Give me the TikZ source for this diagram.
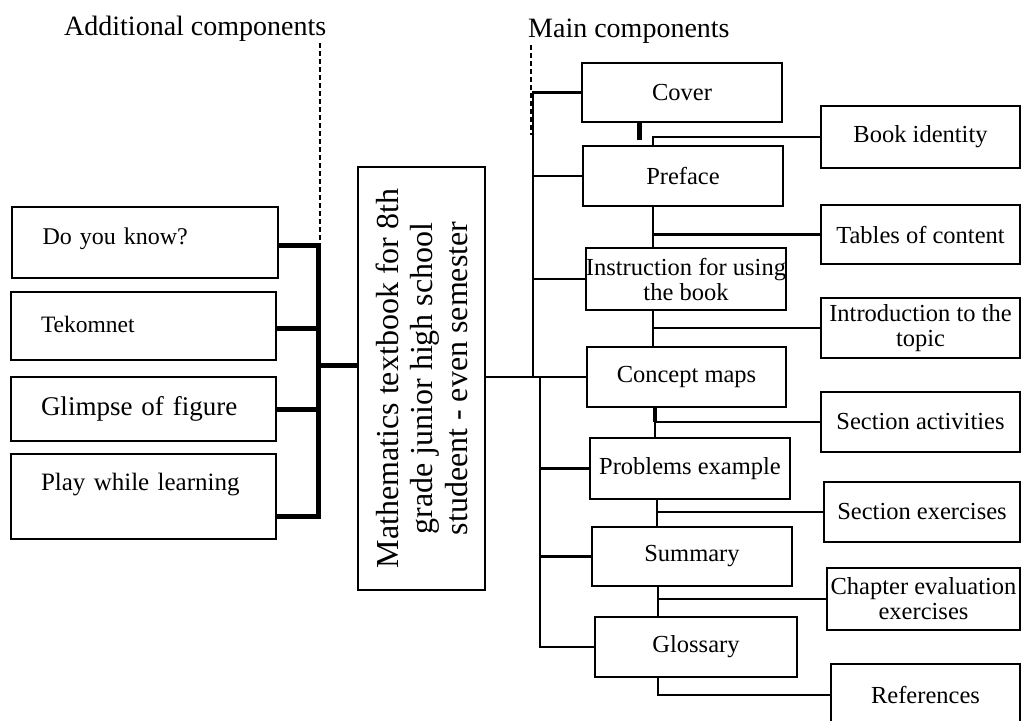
\documentclass[tikz,border=0pt]{standalone}
\usepackage{fontspec}
\setmainfont{Liberation Serif}
\newcommand\mybox[6][]{\node[box,minimum width={#5-#3},minimum height={#6-#4},#1] (#2) at ({(#3+#5)/2},{(#4+#6)/2})}
\begin{document}
\begin{tikzpicture}[x=1pt,y=-1pt,
  box/.style={draw,line width=2.5pt,inner sep=0pt,align=center,font=\fontsize{24.5}{25}\selectfont},
  leftbox/.style={align=left,inner xsep=30pt,text width=205pt},
  conn/.style={line width=2.2pt},
  heavy/.style={line width=5pt},
  dashline/.style={line width=1.1pt,dash pattern=on 5pt off 3pt},
  title/.style={anchor=base west,inner sep=0pt,font=\fontsize{28}{30}\selectfont}]
\useasboundingbox (0,0) rectangle (1022,720);

% titles
\node[title] (addt) at (64,35) {Additional components};
\node[title] (maint) at (528,37) {Main components};

% left boxes
\mybox[leftbox,font=\fontsize{24}{25}\selectfont,text height=17pt,text depth=13pt]{dyk}{12}{207}{278}{278} {Do you know?};
\mybox[leftbox,font=\fontsize{23.5}{25}\selectfont,text height=16pt,text depth=4pt]{tek}{11}{292}{276}{360} {Tekomnet};
\mybox[leftbox,font=\fontsize{27}{30}\selectfont]{glim}{11}{377}{276}{441} {Glimpse of figure};
\mybox[leftbox,font=\fontsize{25}{27}\selectfont,text height=17pt,text depth=30pt]{play}{11}{454}{276}{539} {Play while learning};

% center box
\node[draw,line width=2.5pt,inner sep=0pt,rotate=90,align=center,
      minimum width=423pt,minimum height=127pt,font=\fontsize{32}{34.5}\selectfont]
  (center) at (421.5,378.5) {Mathematics textbook for 8th\\grade junior high school\\studeent - even semester};

% main boxes
\mybox{cover}{582}{63}{782}{122} {Cover};
\mybox{preface}{583}{146}{783}{206} {Preface};
\mybox{instr}{587}{248}{785}{310} {Instruction for using\\the book};
\mybox{concept}{587}{347}{786}{407} {Concept maps};
\mybox{problems}{590}{438}{790}{499} {Problems example};
\mybox{summary}{592}{527}{792}{586} {Summary};
\mybox{glossary}{595}{617}{797}{677} {Glossary};

% right boxes
\mybox{bookid}{821}{106}{1020}{168} {Book identity};
\mybox{toc}{821}{205}{1020}{264} {Tables of content};
\mybox{intro}{821}{298}{1020}{358} {Introduction to the\\topic};
\mybox{secact}{821}{392}{1020}{452} {Section activities};
\mybox{secex}{824}{482}{1020}{542} {Section exercises};
\mybox{chap}{827}{568}{1020}{630} {Chapter evaluation\\exercises};
\mybox{refs}{831}{664}{1020}{726} {References};

% dashed leaders
\coordinate (lbus) at (318,0);
\coordinate (dl) at (320,43);
\coordinate (dm) at (531,45);
\draw[dashline] (dl) -- (dl |- dyk.east);
\draw[dashline] (dm) -- (531,135);

% left heavy connectors
\draw[heavy] (dyk.east |- 0,245) -- (lbus |- 0,245) -- (lbus |- 0,516) -- (play.east |- 0,516);
\draw[heavy] (tek.east |- 0,328) -- (lbus |- 0,328);
\draw[heavy] (glim.east) -- (lbus |- glim.east);
\draw[heavy] (lbus |- 0,365) -- (center.north |- 0,365);

% main bus
\coordinate (ub) at (533,0);
\coordinate (lb) at (540,0);
\draw[conn] (cover.west) -- (cover.west -| ub) -- (ub |- concept.west);
\draw[conn] (preface.west) -- (preface.west -| ub);
\draw[conn] (instr.west) -- (instr.west -| ub);
\draw[conn] (center.south |- concept.west) -- (concept.west);
\draw[conn] (lb |- concept.west) -- (lb |- glossary.west) -- (glossary.west);
\draw[conn] (lb |- problems.west) -- (problems.west);
\draw[conn] (lb |- summary.west) -- (summary.west);

% cover-preface stub
\coordinate (stub) at (639,140);
\draw[line width=5pt] (cover.south -| stub) -- (stub);

% right connectors
\coordinate (j1) at (653,137);
\coordinate (j2) at (653,234.5);
\coordinate (j3) at (653,328);
\coordinate (j4) at (655,422);
\coordinate (j5) at (657,512);
\coordinate (j6) at (658,599);
\coordinate (j7) at (658,695);
\draw[conn] (preface.north -| j1) -- (j1) -- (bookid.west);
\draw[conn] (preface.south -| j2) -- (instr.north -| j2);
\draw[conn] (j2) -- (toc.west);
\draw[conn] (instr.south -| j3) -- (concept.north -| j3);
\draw[conn] (j3) -- (intro.west);
\draw[conn] (concept.south -| j4) -- (problems.north -| j4);
\draw[line width=3.5pt] (concept.south -| j4) -- (j4);
\draw[conn] (j4) -- (secact.west);
\draw[conn] (problems.south -| j5) -- (summary.north -| j5);
\draw[conn] (j5) -- (secex.west);
\draw[conn] (summary.south -| j6) -- (glossary.north -| j6);
\draw[conn] (j6) -- (chap.west);
\draw[conn] (glossary.south -| j7) -- (j7) -- (refs.west);
\end{tikzpicture}
\end{document}
